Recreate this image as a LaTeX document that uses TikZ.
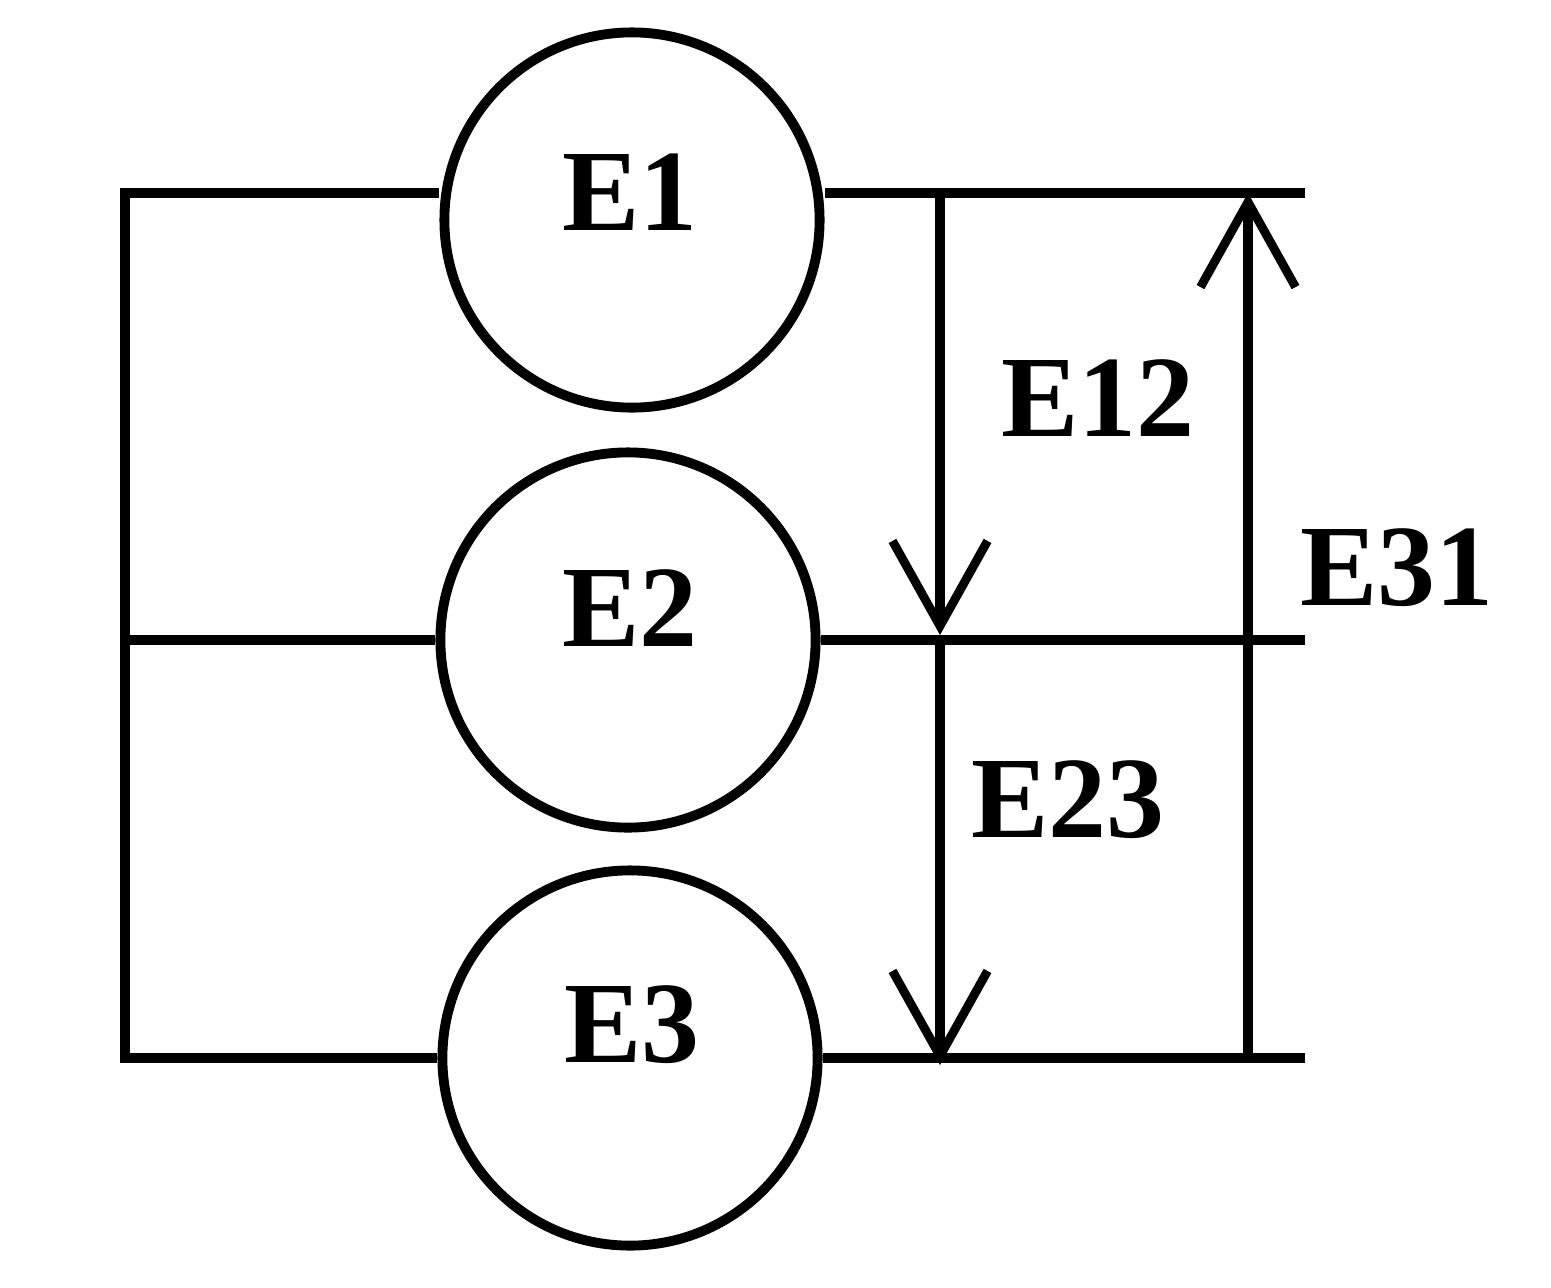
\documentclass[tikz,border=0pt]{standalone}
\usepackage{fontspec}
\setmainfont{Liberation Serif}
\usetikzlibrary{arrows.meta}
\begin{document}
\begin{tikzpicture}[x=0.01cm,y=-0.01cm,line width=2.8pt,
  src/.style={draw,circle,minimum size=3.75cm,inner sep=0pt},
  lab/.style={font=\fontsize{33}{33}\selectfont\bfseries},
  arr/.style={-{Straight Barb[length=0.85cm,width=0.95cm,line width=2.5pt]}}]
\useasboundingbox (0,0) rectangle (1551,1287);
\node[src] (E1) at (632,220) {};
\node[src] (E2) at (628,640) {};
\node[src] (E3) at (630,1058) {};
\node[lab] at (630,192) {E1};
\node[lab] at (630,608) {E2};
\node[lab] at (632,1025) {E3};
\coordinate (tl) at (125,193);
\coordinate (ml) at (125,640);
\coordinate (bl) at (125,1058);
\coordinate (tr) at (1305,193);
\coordinate (mr) at (1305,640);
\coordinate (br) at (1305,1058);
\coordinate (a1) at (940,193);
\coordinate (a2) at (940,635);
\coordinate (a3) at (940,640);
\coordinate (a4) at (940,1065);
\coordinate (c1) at (1248,1058);
\coordinate (c2) at (1248,193);
\draw (E1.west |- tl) -- (tl) -- (bl) -- (E3.west |- bl);
\draw (ml) -- (E2.west |- ml);
\draw (E1.east |- tr) -- (tr);
\draw (E2.east |- mr) -- (mr);
\draw (E3.east |- br) -- (br);
\draw[arr] (a1) -- (a2);
\draw[arr] (a3) -- (a4);
\draw[arr] (c1) -- (c2);
\node[lab] at (1098,398) {E12};
\node[lab] at (1068,800) {E23};
\node[lab] at (1397,568) {E31};
\end{tikzpicture}
\end{document}
